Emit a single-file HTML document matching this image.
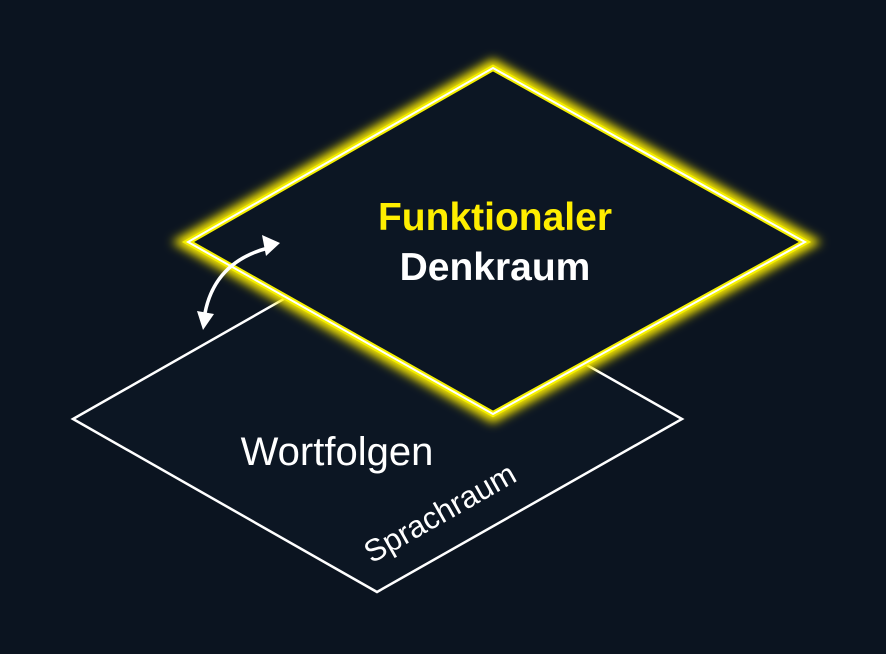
<!DOCTYPE html>
<html><head><style>
html,body{margin:0;padding:0;background:#0b1420;}
svg{display:block}
</style></head><body>
<svg width="886" height="654" viewBox="0 0 886 654" xmlns="http://www.w3.org/2000/svg">
<defs>
<filter id="g" x="-20%" y="-20%" width="140%" height="140%">
<feGaussianBlur stdDeviation="5"/>
</filter>
</defs>
<rect width="886" height="654" fill="#0b1420"/>
<polygon points="73,419 377,246 682,419 377,592" fill="#0c1623" stroke="#fff" stroke-width="2.5"/>
<text x="337" y="465" font-family="Liberation Sans, sans-serif" font-size="40" fill="#fff" text-anchor="middle">Wortfolgen</text>
<text transform="translate(445,522) rotate(-29.6)" font-family="Liberation Sans, sans-serif" font-size="31" fill="#fff" text-anchor="middle">Sprachraum</text>
<polygon points="188,242 493,68 805,242 493,414" fill="none" stroke="#ffee00" stroke-width="16" filter="url(#g)"/>
<polygon points="188,242 493,68 805,242 493,414" fill="#0c1623" stroke="#f5f000" stroke-width="6"/>
<polygon points="188,242 493,68 805,242 493,414" fill="none" stroke="#fff" stroke-width="2"/>
<text x="495" y="230" font-family="Liberation Sans, sans-serif" font-weight="bold" font-size="39" fill="#ffee00" text-anchor="middle">Funktionaler</text>
<text x="495" y="280" font-family="Liberation Sans, sans-serif" font-weight="bold" font-size="39" fill="#fff" text-anchor="middle">Denkraum</text>
<path d="M205,313 Q215,262 268,248" fill="none" stroke="#fff" stroke-width="3.5"/>
<polygon points="280,243 262,235 266,256" fill="#fff"/>
<polygon points="203,330 197,311 214,314" fill="#fff"/>
</svg>
</body></html>
